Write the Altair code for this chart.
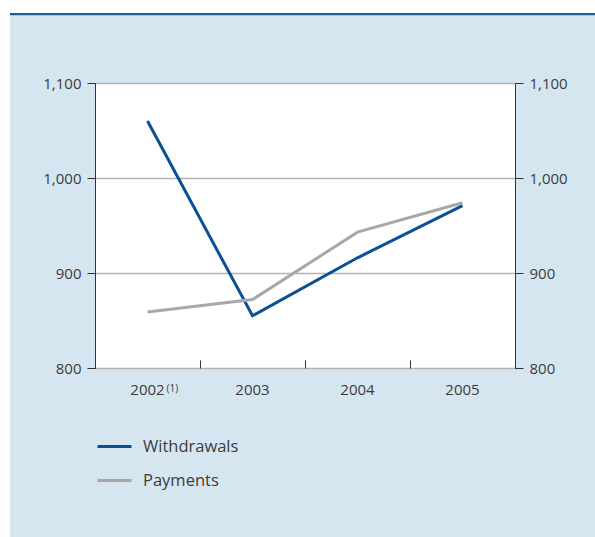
import altair as alt
import pandas as pd

# Data
years = ["2002", "2003", "2004", "2005"]
withdrawals = [1060, 855, 916, 971]
payments = [859, 872, 943, 974]
series_names = ["Withdrawals", "Payments"]
series_colors = ["#0b4f96", "#a8a8a8"]
y_ticks = [800, 900, 1000, 1100]
footnote_year = "2002"
footnote_text = "(1)"

rows = []
for name, vals in zip(series_names, [withdrawals, payments]):
    for yr, v in zip(years, vals):
        rows.append({"year": yr, "series": name, "value": v})
df = pd.DataFrame(rows)
note_df = pd.DataFrame({"year": [footnote_year], "value": [y_ticks[0]], "label": [footnote_text]})
one = pd.DataFrame({"k": [0]})

W, H = 420, 285
PAD_L, PAD_T = 95, 83
FONT = "Open Sans"
TEXT = "#3c3c3c"
DARK = "#333333"

x_scale = alt.Scale(type="band", domain=years, paddingInner=0, paddingOuter=0)
y_scale = alt.Scale(domain=[y_ticks[0], y_ticks[-1]], nice=False, zero=False)

# page framing: white margin on left/top and the thin blue rule above the panel
left_margin = alt.Chart(one).mark_rect(color="white").encode(
    x=alt.value(-PAD_L), x2=alt.value(-PAD_L + 10),
    y=alt.value(-PAD_T), y2=alt.value(537 - PAD_T),
)
top_margin = alt.Chart(one).mark_rect(color="white").encode(
    x=alt.value(-PAD_L), x2=alt.value(595 - PAD_L),
    y=alt.value(-PAD_T), y2=alt.value(-PAD_T + 13),
)
top_rule = alt.Chart(one).mark_rect(color="#1d5ca5").encode(
    x=alt.value(-PAD_L + 10), x2=alt.value(595 - PAD_L),
    y=alt.value(-PAD_T + 13), y2=alt.value(-PAD_T + 15.3),
)

lines = alt.Chart(df).mark_line(strokeWidth=3, strokeJoin="miter", strokeCap="butt").encode(
    x=alt.X("year:N", scale=x_scale, sort=years, title=None,
            axis=alt.Axis(orient="bottom", ticks=False, domain=False, grid=False,
                          labelAngle=0, labelPadding=14, labelFontSize=15,
                          labelColor=TEXT, labelFont=FONT)),
    y=alt.Y("value:Q", scale=y_scale, title=None,
            axis=alt.Axis(orient="left", values=y_ticks, format=",d", tickSize=8,
                          tickColor=DARK, domainColor=DARK, tickWidth=1, domainWidth=1,
                          labelPadding=6, labelFontSize=15, labelColor=TEXT, labelFont=FONT,
                          grid=True, gridColor="#b3b3b3", gridWidth=1.5)),
    color=alt.Color("series:N", scale=alt.Scale(domain=series_names, range=series_colors),
                    legend=alt.Legend(orient="none", legendX=1, legendY=345, title=None,
                                      symbolType="stroke", symbolSize=1156,
                                      symbolStrokeWidth=3, labelFontSize=16.5,
                                      labelOffset=10, rowPadding=7, padding=0,
                                      labelColor=TEXT, labelFont=FONT)),
    order=alt.Order("year:N"),
)

# footnote marker next to the first year label; also carries the right axis
# and the inward category ticks along the bottom edge
note = alt.Chart(note_df).mark_text(align="left", baseline="middle", dx=19, dy=21,
                                    fontSize=10, color=TEXT, font=FONT).encode(
    x=alt.X("year:N", scale=x_scale, sort=years, title=None,
            axis=alt.Axis(orient="top", offset=-H, labels=False, domain=False, grid=False,
                          ticks=True, tickSize=8, tickBand="extent",
                          tickColor=DARK, tickWidth=1)),
    y=alt.Y("value:Q", scale=y_scale, title=None,
            axis=alt.Axis(orient="right", values=y_ticks, format=",d", tickSize=8,
                          tickColor=DARK, domainColor=DARK, tickWidth=1, domainWidth=1,
                          labelPadding=6, labelFontSize=15, labelColor=TEXT, labelFont=FONT,
                          grid=False)),
    text="label:N",
)

chart = alt.layer(left_margin, top_margin, top_rule, lines, note).resolve_axis(
    x="independent", y="independent"
).properties(
    width=W, height=H,
    autosize=alt.AutoSizeParams(type="none"),
    padding={"left": PAD_L, "top": PAD_T, "right": 595 - PAD_L - W, "bottom": 537 - PAD_T - H},
    background="#d5e6f0",
).configure_view(
    fill="white", stroke=DARK, strokeWidth=1
)

chart.save("out.html", embed_options={"renderer": "svg", "actions": False})
